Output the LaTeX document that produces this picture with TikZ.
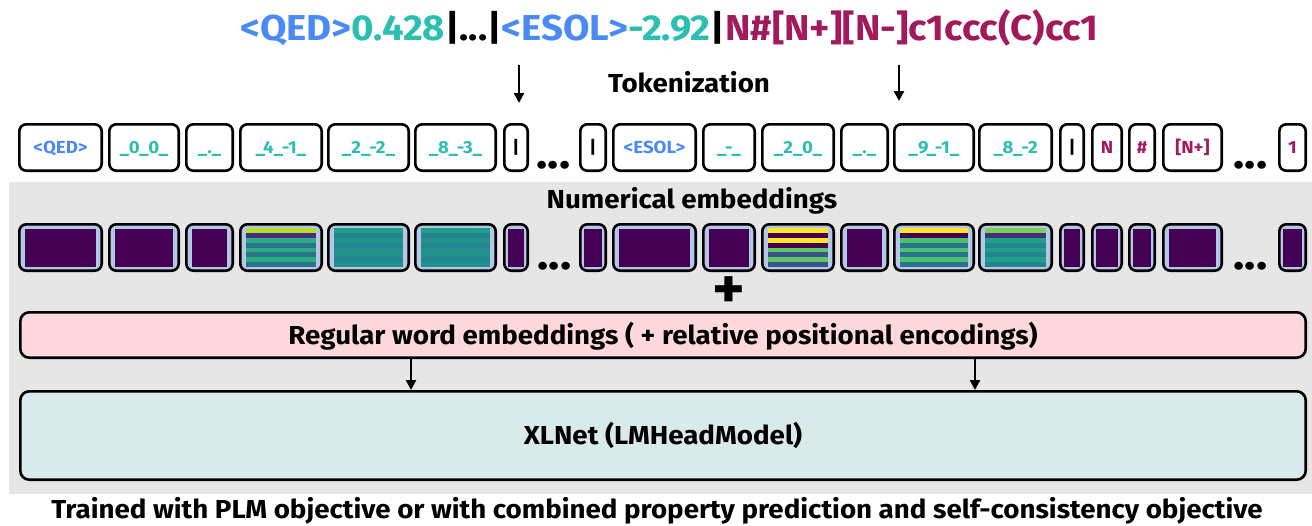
\documentclass[tikz,border=0pt]{standalone}
\usepackage{fontspec}
\setmainfont{Fira Sans}
\newfontfamily\wfont{Fira Sans}[FakeStretch=1.066]
\usetikzlibrary{arrows.meta,calc}
\definecolor{cblue}{HTML}{4A8AF4}
\definecolor{cteal}{HTML}{2BBFB1}
\definecolor{cmar}{HTML}{A21A5B}
\definecolor{bggray}{HTML}{E6E6E6}
\definecolor{embfill}{HTML}{B4C7E7}
\definecolor{regfill}{HTML}{FFD8DD}
\definecolor{xlfill}{HTML}{D9EAEA}
\definecolor{pu}{HTML}{440154}
\definecolor{puu}{HTML}{472D7B}
\definecolor{yg}{HTML}{B5DE2B}
\definecolor{ye}{HTML}{FDE725}
\definecolor{gr}{HTML}{29AF7F}
\definecolor{tb}{HTML}{2C728E}
\definecolor{te}{HTML}{21918C}
\definecolor{tee}{HTML}{25848E}
\definecolor{teg}{HTML}{1FA088}
\definecolor{lg}{HTML}{5EC962}
\definecolor{bl}{HTML}{3B528B}
\definecolor{gs}{HTML}{7AD151}
\definecolor{gf}{HTML}{4AC16D}
\newcommand\stripebox[3]{%
  \foreach \col [count=\i] in {#3} {\fill[\col] ({#1+7},{228+(\i-1)*4.875}) rectangle ({#2-7},{228+\i*4.875});}}
\begin{document}
\begin{tikzpicture}[x=1pt,y=-1pt,
  tok/.style={draw, line width=2.6pt, rounded corners=7pt, minimum height=46.4pt,
    inner sep=0pt, text height=12.6pt, text depth=0pt, font=\fontsize{17.5}{17.5}\wfont\bfseries},
  emb/.style={draw, line width=2.6pt, rounded corners=7pt, fill=embfill, minimum height=46.4pt, inner sep=0pt},
  bigbox/.style={draw, line width=2.6pt, rounded corners=9pt, inner sep=0pt,
    text height=18pt, text depth=0pt, font=\fontsize{26}{26}\wfont\bfseries},
  lbl/.style={font=\fontsize{26}{26}\wfont\bfseries, inner sep=0pt, anchor=base},
  dots/.style={font=\fontsize{44}{44}\wfont\bfseries, inner sep=0pt, anchor=base},
  arr/.style={line width=2.4pt, -{Triangle[width=10pt,length=10pt]}}
]
\useasboundingbox (0,0) rectangle (1312,525);
\fill[white] (0,0) rectangle (1312,525);
\fill[bggray] (9,182) rectangle (1312,494);

% title
\node[font=\fontsize{36}{36}\wfont\bfseries, inner sep=0pt, anchor=base] (title) at (669.5,40)
  {\textcolor{cblue}{<QED>}\textcolor{cteal}{0.428}|...|\textcolor{cblue}{<ESOL>}\textcolor{cteal}{-2.92}|\textcolor{cmar}{N\#[N+][N-]c1ccc(C)cc1}};
\node[lbl] (tokz) at (689,92) {Tokenization};
\coordinate (ta1) at (519,65); \coordinate (ta1e) at (519,103);
\coordinate (ta2) at (899,65); \coordinate (ta2e) at (899,101);
\draw[arr] (ta1) -- (ta1e);
\draw[arr] (ta2) -- (ta2e);

% tokens
\foreach \n/\a/\b/\t/\c in {
  t1/18/103/{<QED>}/cblue, t2/108/180/{\_0\_0\_}/cteal, t3/185/234/{\_.\_}/cteal,
  t4/239/323/{\_4\_-1\_}/cteal, t5/327/410/{\_2\_-2\_}/cteal, t6/414/497/{\_8\_-3\_}/cteal,
  t7/503/529/{|}/black, t8/579/607/{|}/black, t9/612/697/{<ESOL>}/cblue,
  t10/702/756/{\_-\_}/cteal, t11/761/835/{\_2\_0\_}/cteal, t12/840/889/{\_.\_}/cteal,
  t13/893/975/{\_9\_-1\_}/cteal, t14/978/1053/{\_8\_-2}/cteal, t15/1059/1085/{|}/black,
  t16/1091/1123/{N}/cmar, t17/1128/1156/{\#}/cmar, t18/1162/1223/{[N+]}/cmar,
  t19/1278/1307/{1}/cmar}
  {\node[tok, minimum width={\b-\a-2.6}, text=\c] (\n) at ({(\a+\b)/2},147.5) {\t};}
\node[dots] (d1) at (553.5,168) {...};
\node[dots] (d2) at (1250.5,168) {...};

% numerical embeddings
\node[lbl] (numl) at (692,208) {Numerical embeddings};
\foreach \n/\a/\b in {e1/18/103, e2/108/180, e3/185/234, e4/239/323, e5/327/410, e6/414/497,
  e7/503/529, e8/579/607, e9/612/697, e10/702/756, e11/761/835, e12/840/889,
  e13/893/975, e14/978/1053, e15/1059/1085, e16/1091/1123, e17/1128/1156, e18/1162/1223, e19/1278/1307}
  {\node[emb, minimum width={\b-\a-2.6}] (\n) at ({(\a+\b)/2},247.5) {};
   \pgfmathsetmacro\ins{(\b-\a>40)?7:5}
   \fill[pu] ({\a+\ins},229) rectangle ({\b-\ins},267);}
\stripebox{239}{323}{yg,puu,gr,tb,gr,tb,gr,tb}
\stripebox{327}{410}{teg,tee,te,tee,te,te,tee,te}
\stripebox{414}{497}{teg,tee,te,tee,te,te,tee,te}
\stripebox{761}{835}{ye,pu,ye,pu,lg,bl,lg,bl}
\stripebox{893}{975}{ye,pu,gf,tb,gf,tb,gf,tb}
\stripebox{978}{1053}{gs,puu,teg,tee,teg,tee,teg,tee}
\node[dots] (d3) at (554.5,269) {...};
\node[dots] (d4) at (1250.5,269) {...};

\node[font=\fontsize{58}{58}\wfont\bfseries, inner sep=0pt] (plus) at (729,293) {+};

% regular embeddings and model
\node[bigbox, fill=regfill, minimum width=1285.4pt, minimum height=45.4pt] (reg) at (663,335)
  {Regular word embeddings ( + relative positional encodings)};
\node[bigbox, fill=xlfill, minimum width=1285.4pt, minimum height=88.4pt] (xl) at (663,435.5)
  {XLNet (LMHeadModel)};
\coordinate (c1) at (411,0); \coordinate (c2) at (975,0);
\draw[arr] (reg.south -| c1) -- (xl.north -| c1);
\draw[arr] (reg.south -| c2) -- (xl.north -| c2);

\node[lbl] (bot) at (657,518) {Trained with PLM objective or with combined property prediction and self-consistency objective};
\end{tikzpicture}
\end{document}
